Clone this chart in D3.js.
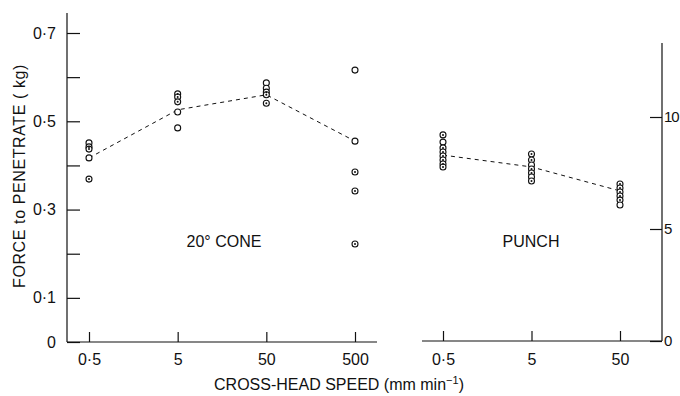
<!DOCTYPE html>
<html>
<head>
<meta charset="utf-8">
<script src="https://cdn.jsdelivr.net/npm/d3@7"></script>
<style>
  body { margin: 0; background: #fff; }
  svg text { font-family: "Liberation Sans", Arial, sans-serif; fill: #111; }
  .axis path, .axis line { stroke: #111; stroke-width: 1.2; }
</style>
</head>
<body>
<svg id="chart" width="680" height="396"></svg>
<script>
// Cross-head speeds (mm/min)
var coneSpeeds = [0.5, 5, 50, 500];
var punchSpeeds = [0.5, 5, 50];

// individual readings: [value, dotted centre]
var coneReadings = [
    [[0.451, 0], [0.442, 1], [0.437, 1], [0.417, 0], [0.369, 1]],
    [[0.562, 1], [0.555, 1], [0.544, 1], [0.521, 0], [0.485, 0]],
    [[0.587, 0], [0.575, 0], [0.566, 1], [0.560, 1], [0.541, 1]],
    [[0.616, 0], [0.455, 0], [0.385, 1], [0.342, 1], [0.222, 1]]
];
var coneLine = [0.417, 0.526, 0.560, 0.455];

var punchReadings = [
    [[9.20, 1], [8.88, 0], [8.62, 1], [8.44, 1], [8.26, 1], [8.08, 1], [7.90, 1], [7.77, 1]],
    [[8.35, 1], [8.08, 1], [7.86, 0], [7.68, 1], [7.50, 1], [7.32, 0], [7.14, 1]],
    [[7.01, 1], [6.83, 1], [6.65, 1], [6.47, 1], [6.29, 1], [6.07, 0]]
];
var punchLine = [8.30, 7.77, 6.70];

var leftTicks = [0, 0.1, 0.2, 0.3, 0.4, 0.5, 0.6, 0.7];
var leftLabels = [0, 0.1, 0.3, 0.5, 0.7];
var rightTicks = [0, 5, 10];

var svg = d3.select("#chart");
var fmt = function(v) { return v === 0 ? "0" : String(v).replace(".", "\u00b7"); };

// scales
var yLeft = d3.scaleLinear().domain([0, 0.7]).range([342, 33]);
var yRight = d3.scaleLinear().domain([0, 10]).range([341, 117]);
var xCone = d3.scaleLog().domain([0.5, 500]).range([89, 355]);
var xPunch = d3.scaleLog().domain([0.5, 50]).range([443, 620]);

// left y axis
var gl = svg.append("g").attr("class", "axis").attr("transform", "translate(67,0)")
    .call(d3.axisLeft(yLeft).tickValues(leftTicks).tickSize(-13).tickSizeOuter(0).tickPadding(11)
        .tickFormat(function(d) { return leftLabels.indexOf(d) >= 0 ? fmt(d) : ""; }));
gl.select(".domain").remove();
gl.append("line").attr("y1", 13).attr("y2", yLeft(0)).attr("stroke", "#111").attr("stroke-width", 1.2);

// right y axis
var gr = svg.append("g").attr("class", "axis").attr("transform", "translate(662,0)")
    .call(d3.axisRight(yRight).tickValues(rightTicks).tickSize(-12).tickSizeOuter(0).tickPadding(2));
gr.select(".domain").remove();
gr.append("line").attr("y1", 43).attr("y2", yRight(0)).attr("stroke", "#111").attr("stroke-width", 1.2);

// x axes
var gx1 = svg.append("g").attr("class", "axis").attr("transform", "translate(0,342)")
    .call(d3.axisBottom(xCone).tickValues(coneSpeeds).tickSize(-10).tickSizeOuter(0).tickPadding(12).tickFormat(fmt));
gx1.select(".domain").remove();
gx1.append("line").attr("x1", 67).attr("x2", 377).attr("stroke", "#111").attr("stroke-width", 1.2);

var gx2 = svg.append("g").attr("class", "axis").attr("transform", "translate(0,341)")
    .call(d3.axisBottom(xPunch).tickValues(punchSpeeds).tickSize(-10).tickSizeOuter(0).tickPadding(13).tickFormat(fmt));
gx2.select(".domain").remove();
gx2.append("line").attr("x1", 422).attr("x2", 662).attr("stroke", "#111").attr("stroke-width", 1.2);
svg.selectAll(".axis text").style("font-size", "16px").attr("fill", "#111");
gr.selectAll("text").style("font-size", "15px").style("letter-spacing", "-1px");

// dashed lines through the sets
var coneLineGen = d3.line().x(function(d, i) { return xCone(coneSpeeds[i]); }).y(function(d) { return yLeft(d); });
var punchLineGen = d3.line().x(function(d, i) { return xPunch(punchSpeeds[i]); }).y(function(d) { return yRight(d); });

svg.append("path").attr("d", coneLineGen(coneLine))
    .attr("fill", "none").attr("stroke", "#111").attr("stroke-width", 1).attr("stroke-dasharray", "4,4");
svg.append("path").attr("d", punchLineGen(punchLine))
    .attr("fill", "none").attr("stroke", "#111").attr("stroke-width", 1).attr("stroke-dasharray", "4,4");

// data points
function drawPoints(readings, speeds, x, y) {
    readings.forEach(function(set, i) {
        var g = svg.append("g");
        g.selectAll("circle.pt")
            .data(set)
            .enter().append("circle")
            .attr("class", "pt")
            .attr("cx", x(speeds[i]))
            .attr("cy", function(d) { return y(d[0]); })
            .attr("r", 3)
            .attr("fill", "#fff")
            .attr("stroke", "#111")
            .attr("stroke-width", 1.1);
        g.selectAll("circle.dot")
            .data(set.filter(function(d) { return d[1]; }))
            .enter().append("circle")
            .attr("class", "dot")
            .attr("cx", x(speeds[i]))
            .attr("cy", function(d) { return y(d[0]); })
            .attr("r", 1)
            .attr("fill", "#111");
    });
}
drawPoints(coneReadings, coneSpeeds, xCone, yLeft);
drawPoints(punchReadings, punchSpeeds, xPunch, yRight);

// labels
svg.append("text").attr("x", 224).attr("y", 247).attr("text-anchor", "middle")
    .style("font-size", "16px").text("20\u00b0 CONE");
svg.append("text").attr("x", 531).attr("y", 247).attr("text-anchor", "middle")
    .style("font-size", "16px").text("PUNCH");

var xt = svg.append("text").attr("x", 339).attr("y", 390).attr("text-anchor", "middle")
    .style("font-size", "16px");
xt.append("tspan").text("CROSS-HEAD SPEED (mm min");
xt.append("tspan").attr("dy", -6).style("font-size", "11px").text("\u22121");
xt.append("tspan").attr("dy", 6).text(")");

svg.append("text")
    .attr("transform", "translate(25,176) rotate(-90)")
    .attr("text-anchor", "middle")
    .style("font-size", "16px")
    .style("letter-spacing", "0.6px")
    .text("FORCE to PENETRATE ( kg)");
</script>
</body>
</html>
